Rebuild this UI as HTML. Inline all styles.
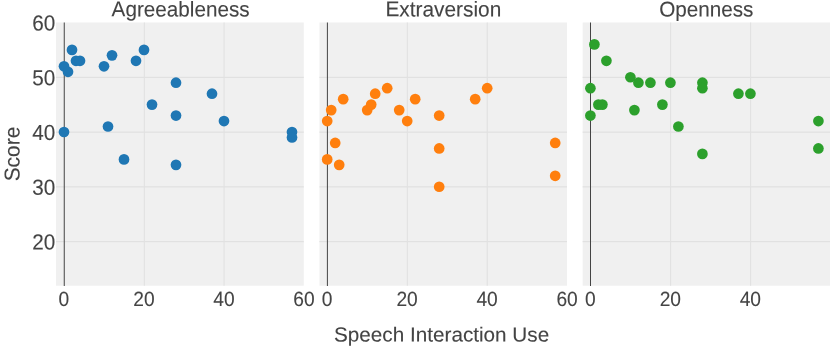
<!DOCTYPE html>
<html><head><meta charset="utf-8"><title>chart</title>
<style>
html,body{margin:0;padding:0;background:#fff;overflow:hidden;}
svg{display:block;}
#wrap{width:830px;height:346px;will-change:transform;}
text{font-family:"Liberation Sans",sans-serif;fill:#444444;stroke:#444444;stroke-width:0.1px;}
</style></head><body><div id="wrap">
<svg width="830" height="346" viewBox="0 0 830 346">
<rect width="830" height="346" fill="#ffffff"/>
<g>
<rect x="56.00" y="22.5" width="247.80" height="263.20" fill="#f0f0f0"/>
<line x1="56.00" x2="303.80" y1="241.60" y2="241.60" stroke="#e1e1e1" stroke-width="1.1"/>
<line x1="56.00" x2="303.80" y1="186.85" y2="186.85" stroke="#e1e1e1" stroke-width="1.1"/>
<line x1="56.00" x2="303.80" y1="132.10" y2="132.10" stroke="#e1e1e1" stroke-width="1.1"/>
<line x1="56.00" x2="303.80" y1="77.35" y2="77.35" stroke="#e1e1e1" stroke-width="1.1"/>
<line x1="144.3" x2="144.3" y1="22.5" y2="285.7" stroke="#e1e1e1" stroke-width="1.1"/>
<line x1="224.05" x2="224.05" y1="22.5" y2="285.7" stroke="#e1e1e1" stroke-width="1.1"/>
<line x1="64.25" x2="64.25" y1="22.5" y2="286.0" stroke="#444444" stroke-width="1"/>
<circle cx="64.00" cy="66.30" r="5.35" fill="#1f77b4"/>
<circle cx="68.00" cy="71.78" r="5.35" fill="#1f77b4"/>
<circle cx="72.00" cy="49.88" r="5.35" fill="#1f77b4"/>
<circle cx="76.00" cy="60.82" r="5.35" fill="#1f77b4"/>
<circle cx="80.00" cy="60.82" r="5.35" fill="#1f77b4"/>
<circle cx="64.00" cy="132.00" r="5.35" fill="#1f77b4"/>
<circle cx="104.00" cy="66.30" r="5.35" fill="#1f77b4"/>
<circle cx="112.00" cy="55.35" r="5.35" fill="#1f77b4"/>
<circle cx="108.00" cy="126.52" r="5.35" fill="#1f77b4"/>
<circle cx="124.00" cy="159.38" r="5.35" fill="#1f77b4"/>
<circle cx="136.00" cy="60.82" r="5.35" fill="#1f77b4"/>
<circle cx="144.00" cy="49.88" r="5.35" fill="#1f77b4"/>
<circle cx="152.00" cy="104.62" r="5.35" fill="#1f77b4"/>
<circle cx="176.00" cy="82.72" r="5.35" fill="#1f77b4"/>
<circle cx="176.00" cy="115.57" r="5.35" fill="#1f77b4"/>
<circle cx="176.00" cy="164.85" r="5.35" fill="#1f77b4"/>
<circle cx="212.00" cy="93.67" r="5.35" fill="#1f77b4"/>
<circle cx="224.00" cy="121.05" r="5.35" fill="#1f77b4"/>
<circle cx="292.00" cy="132.00" r="5.35" fill="#1f77b4"/>
<circle cx="292.00" cy="137.47" r="5.35" fill="#1f77b4"/>
<text transform="translate(180.60,16.40) rotate(0.03) scale(0.9628,1)" text-anchor="middle" font-size="21.5">Agreeableness</text>
<text transform="translate(63.90,306.00) rotate(0.03) scale(0.9310,1)" text-anchor="middle" font-size="20.6">0</text>
<text transform="translate(143.90,306.00) rotate(0.03) scale(0.9310,1)" text-anchor="middle" font-size="20.6">20</text>
<text transform="translate(223.90,306.00) rotate(0.03) scale(0.9310,1)" text-anchor="middle" font-size="20.6">40</text>
<text transform="translate(303.90,306.00) rotate(0.03) scale(0.9310,1)" text-anchor="middle" font-size="20.6">60</text>
</g>
<g>
<rect x="319.45" y="22.5" width="247.55" height="263.20" fill="#f0f0f0"/>
<line x1="319.45" x2="567.00" y1="241.60" y2="241.60" stroke="#e1e1e1" stroke-width="1.1"/>
<line x1="319.45" x2="567.00" y1="186.85" y2="186.85" stroke="#e1e1e1" stroke-width="1.1"/>
<line x1="319.45" x2="567.00" y1="132.10" y2="132.10" stroke="#e1e1e1" stroke-width="1.1"/>
<line x1="319.45" x2="567.00" y1="77.35" y2="77.35" stroke="#e1e1e1" stroke-width="1.1"/>
<line x1="407.35" x2="407.35" y1="22.5" y2="285.7" stroke="#e1e1e1" stroke-width="1.1"/>
<line x1="487.25" x2="487.25" y1="22.5" y2="285.7" stroke="#e1e1e1" stroke-width="1.1"/>
<line x1="327.4" x2="327.4" y1="22.5" y2="286.0" stroke="#444444" stroke-width="1"/>
<circle cx="327.20" cy="121.05" r="5.35" fill="#ff7f0e"/>
<circle cx="331.20" cy="110.10" r="5.35" fill="#ff7f0e"/>
<circle cx="327.20" cy="159.38" r="5.35" fill="#ff7f0e"/>
<circle cx="335.20" cy="142.95" r="5.35" fill="#ff7f0e"/>
<circle cx="339.20" cy="164.85" r="5.35" fill="#ff7f0e"/>
<circle cx="343.20" cy="99.15" r="5.35" fill="#ff7f0e"/>
<circle cx="367.20" cy="110.10" r="5.35" fill="#ff7f0e"/>
<circle cx="371.20" cy="104.62" r="5.35" fill="#ff7f0e"/>
<circle cx="375.20" cy="93.67" r="5.35" fill="#ff7f0e"/>
<circle cx="387.20" cy="88.20" r="5.35" fill="#ff7f0e"/>
<circle cx="399.20" cy="110.10" r="5.35" fill="#ff7f0e"/>
<circle cx="407.20" cy="121.05" r="5.35" fill="#ff7f0e"/>
<circle cx="415.20" cy="99.15" r="5.35" fill="#ff7f0e"/>
<circle cx="439.20" cy="115.57" r="5.35" fill="#ff7f0e"/>
<circle cx="439.20" cy="148.43" r="5.35" fill="#ff7f0e"/>
<circle cx="439.20" cy="186.75" r="5.35" fill="#ff7f0e"/>
<circle cx="475.20" cy="99.15" r="5.35" fill="#ff7f0e"/>
<circle cx="487.20" cy="88.20" r="5.35" fill="#ff7f0e"/>
<circle cx="555.20" cy="142.95" r="5.35" fill="#ff7f0e"/>
<circle cx="555.20" cy="175.80" r="5.35" fill="#ff7f0e"/>
<text transform="translate(443.35,16.40) rotate(0.03) scale(0.9702,1)" text-anchor="middle" font-size="21.5">Extraversion</text>
<text transform="translate(327.10,306.00) rotate(0.03) scale(0.9310,1)" text-anchor="middle" font-size="20.6">0</text>
<text transform="translate(407.10,306.00) rotate(0.03) scale(0.9310,1)" text-anchor="middle" font-size="20.6">20</text>
<text transform="translate(487.10,306.00) rotate(0.03) scale(0.9310,1)" text-anchor="middle" font-size="20.6">40</text>
<text transform="translate(567.10,306.00) rotate(0.03) scale(0.9310,1)" text-anchor="middle" font-size="20.6">60</text>
</g>
<g>
<rect x="582.65" y="22.5" width="247.55" height="263.20" fill="#f0f0f0"/>
<line x1="582.65" x2="830.20" y1="241.60" y2="241.60" stroke="#e1e1e1" stroke-width="1.1"/>
<line x1="582.65" x2="830.20" y1="186.85" y2="186.85" stroke="#e1e1e1" stroke-width="1.1"/>
<line x1="582.65" x2="830.20" y1="132.10" y2="132.10" stroke="#e1e1e1" stroke-width="1.1"/>
<line x1="582.65" x2="830.20" y1="77.35" y2="77.35" stroke="#e1e1e1" stroke-width="1.1"/>
<line x1="670.6" x2="670.6" y1="22.5" y2="285.7" stroke="#e1e1e1" stroke-width="1.1"/>
<line x1="750.6" x2="750.6" y1="22.5" y2="285.7" stroke="#e1e1e1" stroke-width="1.1"/>
<line x1="590.5" x2="590.5" y1="22.5" y2="286.0" stroke="#444444" stroke-width="1"/>
<circle cx="590.40" cy="88.20" r="5.35" fill="#2ca02c"/>
<circle cx="590.40" cy="115.57" r="5.35" fill="#2ca02c"/>
<circle cx="594.40" cy="44.40" r="5.35" fill="#2ca02c"/>
<circle cx="598.40" cy="104.62" r="5.35" fill="#2ca02c"/>
<circle cx="602.40" cy="104.62" r="5.35" fill="#2ca02c"/>
<circle cx="606.40" cy="60.82" r="5.35" fill="#2ca02c"/>
<circle cx="630.40" cy="77.25" r="5.35" fill="#2ca02c"/>
<circle cx="634.40" cy="110.10" r="5.35" fill="#2ca02c"/>
<circle cx="638.40" cy="82.72" r="5.35" fill="#2ca02c"/>
<circle cx="650.40" cy="82.72" r="5.35" fill="#2ca02c"/>
<circle cx="662.40" cy="104.62" r="5.35" fill="#2ca02c"/>
<circle cx="670.40" cy="82.72" r="5.35" fill="#2ca02c"/>
<circle cx="678.40" cy="126.52" r="5.35" fill="#2ca02c"/>
<circle cx="702.40" cy="82.72" r="5.35" fill="#2ca02c"/>
<circle cx="702.40" cy="88.20" r="5.35" fill="#2ca02c"/>
<circle cx="702.40" cy="153.90" r="5.35" fill="#2ca02c"/>
<circle cx="738.40" cy="93.67" r="5.35" fill="#2ca02c"/>
<circle cx="750.40" cy="93.67" r="5.35" fill="#2ca02c"/>
<circle cx="818.40" cy="121.05" r="5.35" fill="#2ca02c"/>
<circle cx="818.40" cy="148.43" r="5.35" fill="#2ca02c"/>
<text transform="translate(706.30,16.40) rotate(0.03) scale(0.9628,1)" text-anchor="middle" font-size="21.5">Openness</text>
<text transform="translate(590.30,306.00) rotate(0.03) scale(0.9310,1)" text-anchor="middle" font-size="20.6">0</text>
<text transform="translate(670.30,306.00) rotate(0.03) scale(0.9310,1)" text-anchor="middle" font-size="20.6">20</text>
<text transform="translate(750.30,306.00) rotate(0.03) scale(0.9310,1)" text-anchor="middle" font-size="20.6">40</text>
</g>
<text transform="translate(55.30,249.40) rotate(0.03) scale(0.9495,1)" text-anchor="end" font-size="21.8">20</text>
<text transform="translate(55.30,194.65) rotate(0.03) scale(0.9495,1)" text-anchor="end" font-size="21.8">30</text>
<text transform="translate(55.30,139.90) rotate(0.03) scale(0.9495,1)" text-anchor="end" font-size="21.8">40</text>
<text transform="translate(55.30,85.15) rotate(0.03) scale(0.9495,1)" text-anchor="end" font-size="21.8">50</text>
<text transform="translate(55.30,30.40) rotate(0.03) scale(0.9495,1)" text-anchor="end" font-size="21.8">60</text>
<text transform="translate(19.60,154.00) rotate(-90) rotate(0.03) scale(0.9744,1)" text-anchor="middle" font-size="21.5">Score</text>
<text transform="translate(441.60,341.50) rotate(0.03) scale(1.0150,1)" text-anchor="middle" font-size="20.4">Speech Interaction Use</text>
</svg></div></body></html>
